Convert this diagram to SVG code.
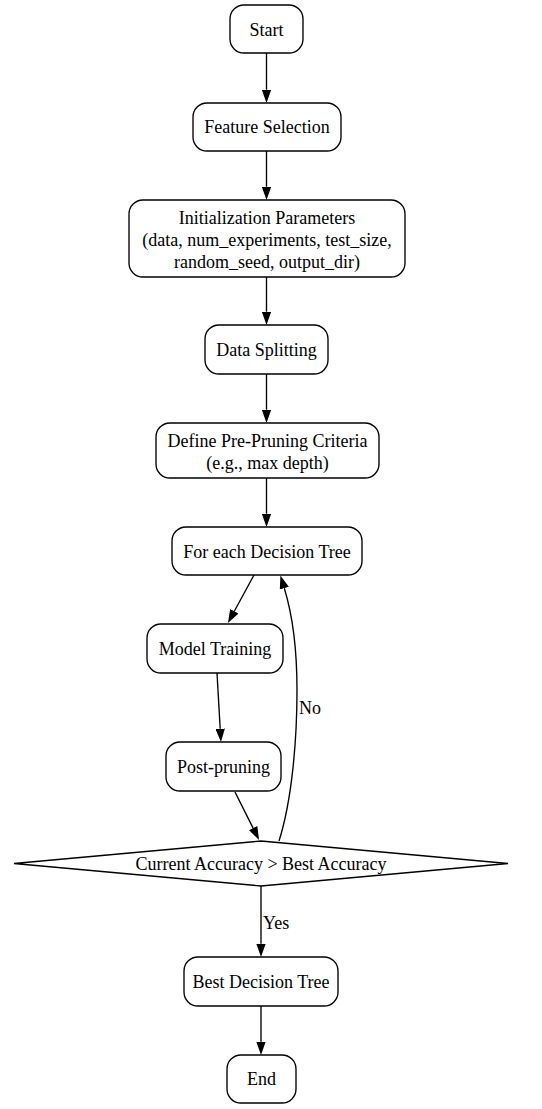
<svg xmlns="http://www.w3.org/2000/svg" width="542" height="1109" viewBox="0 0 542 1109">
<style>
.n{fill:#fff;stroke:#000;stroke-width:1.35}
.t{font-family:"Liberation Serif","Times New Roman",serif;font-size:18px;fill:#000;text-anchor:middle}
.l{font-family:"Liberation Serif","Times New Roman",serif;font-size:18px;fill:#000}
.e{fill:none;stroke:#000;stroke-width:1.35}
</style>
<defs>
<marker id="ah" viewBox="0 0 13.3 9.4" refX="0" refY="4.7" markerWidth="13.3" markerHeight="9.4" markerUnits="userSpaceOnUse" orient="auto">
<path d="M0,0 L13.3,4.7 L0,9.4 z" fill="#000"/>
</marker>
</defs>
<rect width="542" height="1109" fill="#fff"/>
<g id="edges">
<path class="e" d="M266.5,53 L266.5,89.7" marker-end="url(#ah)"/>
<path class="e" d="M266.5,151 L266.5,186.7" marker-end="url(#ah)"/>
<path class="e" d="M266.5,277 L266.5,311.7" marker-end="url(#ah)"/>
<path class="e" d="M266.5,374 L266.5,409.7" marker-end="url(#ah)"/>
<path class="e" d="M266.5,478 L266.5,513.7" marker-end="url(#ah)"/>
<path class="e" d="M254,575 L234.3,611.3" marker-end="url(#ah)"/>
<path class="e" d="M217,673 L220.2,728.7" marker-end="url(#ah)"/>
<path class="e" d="M235,792 L253.1,828.1" marker-end="url(#ah)"/>
<path class="e" d="M279,841 C292,800 297,740 297,690 C297,645 291,610 284.3,588.2" marker-end="url(#ah)"/>
<text class="l" x="299" y="714">No</text>
<path class="e" d="M261,886 L261,943.7" marker-end="url(#ah)"/>
<text class="l" x="263" y="929">Yes</text>
<path class="e" d="M261,1006 L261,1041.7" marker-end="url(#ah)"/>
</g>
<g id="start"><rect class="n" x="230" y="5" width="73" height="48" rx="14"/><text class="t" x="266.5" y="36">Start</text></g>
<g id="feature"><rect class="n" x="193" y="103" width="148" height="48" rx="14"/><text class="t" x="267" y="133">Feature Selection</text></g>
<g id="init"><rect class="n" x="129" y="200" width="276" height="77" rx="14"/>
<text class="t" x="267" y="224">Initialization Parameters</text>
<text class="t" x="267" y="246">(data, num_experiments, test_size,</text>
<text class="t" x="267" y="268">random_seed, output_dir)</text></g>
<g id="split"><rect class="n" x="205" y="325" width="123" height="49" rx="14"/><text class="t" x="266.5" y="356">Data Splitting</text></g>
<g id="prepruning"><rect class="n" x="156" y="423" width="223" height="55" rx="14"/>
<text class="t" x="267.5" y="447">Define Pre-Pruning Criteria</text>
<text class="t" x="267.5" y="469">(e.g., max depth)</text></g>
<g id="foreach"><rect class="n" x="172" y="527" width="190" height="48" rx="14"/><text class="t" x="267" y="558">For each Decision Tree</text></g>
<g id="training"><rect class="n" x="147" y="624" width="136" height="49" rx="14"/><text class="t" x="215" y="655">Model Training</text></g>
<g id="postpruning"><rect class="n" x="166" y="742" width="115" height="49" rx="14"/><text class="t" x="223.5" y="773">Post-pruning</text></g>
<g id="decision"><polygon class="n" points="14,863.5 261,841 508,863.5 261,886"/><text class="t" x="261" y="870">Current Accuracy &gt; Best Accuracy</text></g>
<g id="best"><rect class="n" x="184" y="957" width="154" height="49" rx="14"/><text class="t" x="261" y="988">Best Decision Tree</text></g>
<g id="end"><rect class="n" x="227" y="1055" width="69" height="48" rx="14"/><text class="t" x="261.5" y="1085">End</text></g>
</svg>
